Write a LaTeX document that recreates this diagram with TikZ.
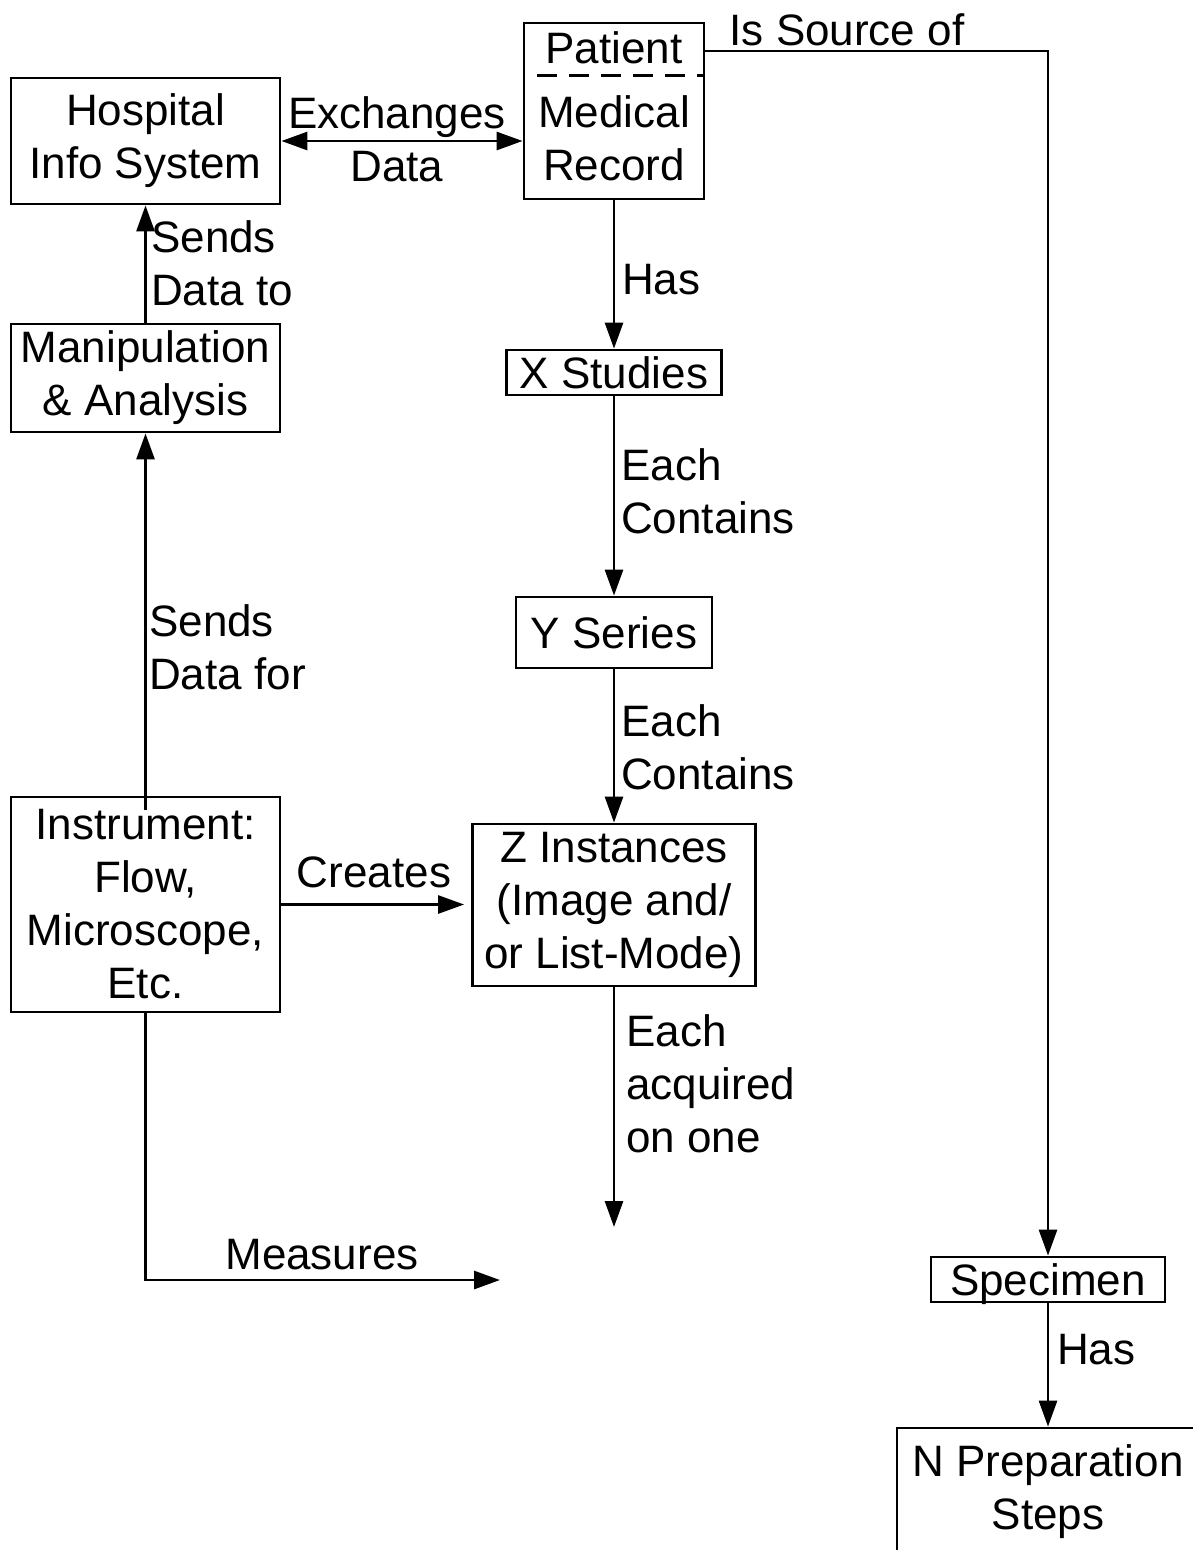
\documentclass[tikz,border=0pt]{standalone}
\usepackage{fontspec}
\setmainfont{Liberation Sans}
\usetikzlibrary{arrows.meta}
\begin{document}
\begin{tikzpicture}[x=1pt,y=-1pt,
  bigfont/.style={font=\fontsize{44}{53}\selectfont},
  box/.style={draw, line width=2.8pt, inner sep=0pt, align=center, bigfont},
  txt/.style={inner sep=0pt, align=center, bigfont},
  lbl/.style={inner sep=0pt, align=left, anchor=west, bigfont},
  conn/.style={line width=2.8pt, -{Triangle[length=26pt,width=18pt]}},
  conntwo/.style={line width=2.8pt, {Triangle[length=26pt,width=18pt]}-{Triangle[length=26pt,width=18pt]}},
  sepline/.style={line width=3pt, dash pattern=on 20pt off 12pt}
]
\useasboundingbox (0,0) rectangle (1193,1550);
\clip (0,0) rectangle (1193,1550);

% boxes
\node[box, minimum width=269pt, minimum height=126pt] (his) at (145.5,141) {Hospital\\Info System};
\node[box, minimum width=180pt, minimum height=176pt] (pmr) at (614,111) {};
\node[txt, text depth=0pt] (pat) at (614,47.5) {Patient};
\node[txt] (mr) at (614,138) {Medical\\Record};
\draw[sepline] (537,75) -- (pmr.east |- 0,75);
\node[box, minimum width=269pt, minimum height=108pt] (manip) at (145.5,378) {Manipulation\\\& Analysis};
\node[box, minimum width=215pt, minimum height=45pt] (xs) at (614,372.5) {X Studies};
\node[box, minimum width=196pt, minimum height=71pt] (ys) at (614,632.5) {Y Series};
\node[box, minimum width=283pt, minimum height=162pt] (zi) at (614,905) {Z Instances\\(Image and/\\or List-Mode)};
\node[box, minimum width=269pt, minimum height=215pt] (instr) at (145.5,904.5) {Instrument:\\Flow,\\Microscope,\\Etc.};
\node[box, minimum width=234pt, minimum height=45pt, text depth=0pt] (spec) at (1048,1279.5) {Specimen};
\node[box, minimum width=302pt, minimum height=128pt] (nprep) at (1048,1492) {N Preparation\\Steps};

% connectors
\draw[conntwo] (his.east) -- (his.east -| pmr.west);
\node[txt] (exl) at (397,139) {Exchanges\\Data};

\coordinate (src) at (1048,51);
\draw[conn] (pmr.east |- src) -- (src) -- (spec.north);
\node[txt] (srcl) at (847,30) {Is Source of};

\draw[conn] (pmr.south) -- (xs.north);
\node[lbl] (l1) at (622,280) {Has};
\draw[conn] (xs.south) -- (ys.north);
\node[lbl] (l2) at (621,491.5) {Each\\Contains};
\draw[conn] (ys.south) -- (zi.north);
\node[lbl] (l3) at (621,747.5) {Each\\Contains};
\coordinate (acq) at (614,1227);
\draw[conn] (zi.south) -- (acq);
\node[lbl] (l4) at (626,1083.5) {Each\\acquired\\on one};

\draw[conn, shorten >=7pt] (instr.east) -- (instr.east -| zi.west);
\node[txt] (l7) at (374,872) {Creates};

\coordinate (instrin) at (145.5,810);
\draw[conn] (instrin) -- (manip.south);
\node[lbl] (l6) at (149,647) {Sends\\Data for};
\draw[conn] (manip.north) -- (his.south);
\node[lbl] (l5) at (151,263.5) {Sends\\Data to};

\coordinate (meas) at (500,1280);
\draw[conn] (instr.south) |- (meas);
\node[txt] (l8) at (322,1255) {Measures};

\draw[conn] (spec.south) -- (nprep.north);
\node[lbl] (l9) at (1057,1350) {Has};
\end{tikzpicture}
\end{document}
